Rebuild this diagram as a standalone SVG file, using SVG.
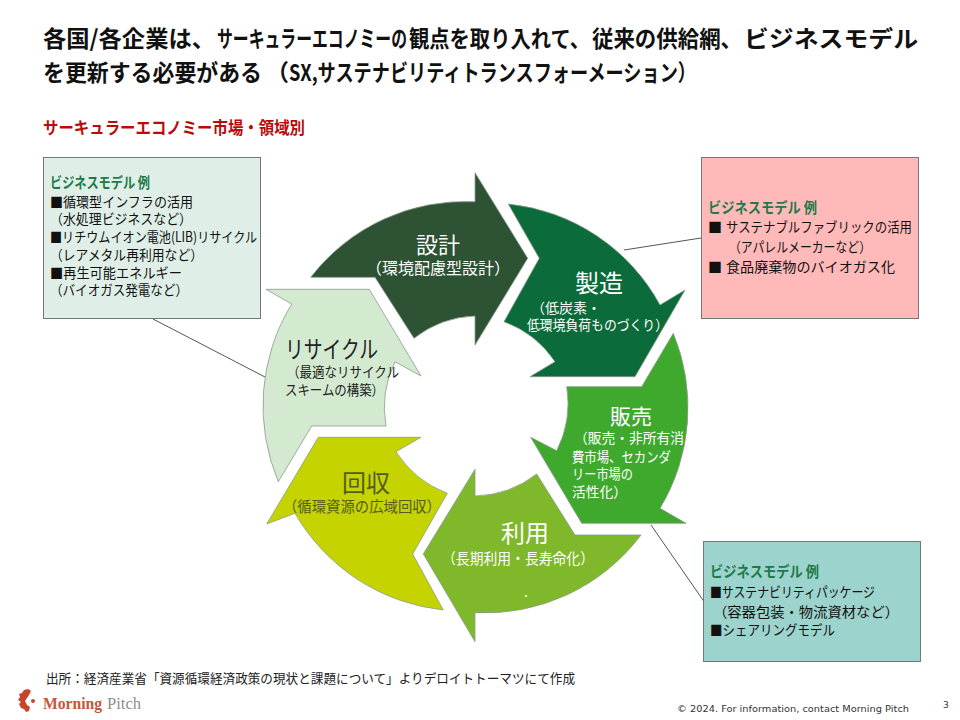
<svg xmlns="http://www.w3.org/2000/svg" width="960" height="720" viewBox="0 0 960 720">
<style>
text{font-family:"Noto Sans CJK JP","Noto Sans",sans-serif;}
.t{font-size:23px;font-weight:700;fill:#111}
.h{font-size:15px;font-weight:700;fill:#1e7a4a}
.b{font-size:14px;fill:#111}
.box{stroke:#6f7b7b;stroke-width:1}
.a{stroke:#8a9a8a;stroke-width:.8}
.w{fill:#fff}
.mid{text-anchor:middle}
.ln{stroke:#555;stroke-width:1;fill:none}
</style>
<rect width="960" height="720" fill="#fff"/>
<text class="t" y="47"><tspan x="43" textLength="172" lengthAdjust="spacingAndGlyphs">各国/各企業は、</tspan><tspan x="217" textLength="190" lengthAdjust="spacingAndGlyphs">サーキュラーエコノミーの</tspan><tspan x="409" textLength="181" lengthAdjust="spacingAndGlyphs">観点を取り入れて、</tspan><tspan x="592" textLength="150" lengthAdjust="spacingAndGlyphs">従来の供給網、</tspan><tspan x="744" textLength="174" lengthAdjust="spacingAndGlyphs">ビジネスモデル</tspan></text>
<text class="t" y="81"><tspan x="43" textLength="219" lengthAdjust="spacingAndGlyphs">を更新する必要がある</tspan><tspan x="266">（</tspan><tspan x="289" textLength="407" lengthAdjust="spacingAndGlyphs">SX,サステナビリティトランスフォーメーション）</tspan></text>
<text x="43" y="134" style="font-size:17px;font-weight:700;fill:#b80c0c" textLength="262" lengthAdjust="spacingAndGlyphs">サーキュラーエコノミー市場・領域別</text>
<g id="connectors">
<path class="ln" d="M153 319L265 377"/>
<path class="ln" d="M624 250L701 238"/>
<path class="ln" d="M651 525L705 603"/>
</g>
<g id="node-design">
<path class="a" fill="#2d5234" d="M310.700 277.300A195 195 0 0 1 475 201.700V172.700L527.700 258.300L475 345V316A105 105 0 0 0 414 338.300L375 277.300Z"/>
<text class="w mid" x="438" y="253" font-size="22">設計</text>
<text class="w mid" x="438" y="274" font-size="16">（環境配慮型設計）</text>
</g>
<g id="node-manufacture">
<path class="a" fill="#0b6b3a" d="M508.300 204A195 195 0 0 1 660 305L685 290L635 376.700H530L555 361.700A105 105 0 0 0 504 321.700L539.300 258.300Z"/>
<text class="w mid" x="599" y="292" font-size="24">製造</text>
<text class="w" x="531" y="313" font-size="14">（低炭素・</text>
<text class="w" x="527" y="330" font-size="14" textLength="141" lengthAdjust="spacingAndGlyphs">低環境負荷ものづくり）</text>
</g>
<g id="node-sales">
<path class="a" fill="#3fa92d" d="M673.300 333.300A195 195 0 0 1 660 508.300L686 523.300H581.700L530.700 437.300L556.700 450.700A105 105 0 0 0 566.700 386.700H641.700Z"/>
<text class="w mid" x="631" y="424" font-size="21">販売</text>
<text class="w" x="574" y="443" font-size="14" textLength="110" lengthAdjust="spacingAndGlyphs">（販売・非所有消</text>
<text class="w" x="572" y="462" font-size="14" textLength="99" lengthAdjust="spacingAndGlyphs">費市場、セカンダ</text>
<text class="w" x="572" y="479" font-size="14" textLength="61" lengthAdjust="spacingAndGlyphs">リー市場の</text>
<text class="w" x="572" y="497" font-size="14" textLength="55" lengthAdjust="spacingAndGlyphs">活性化）</text>
</g>
<g id="node-use">
<path class="a" fill="#7fb82a" d="M641 535A195 195 0 0 1 475 612.700V641.700L423.300 554L475 469.300V496A105 105 0 0 0 536.700 474L575 535Z"/>
<text class="w mid" x="525" y="542" font-size="24">利用</text>
<text class="w mid" x="518" y="564" font-size="15" textLength="152" lengthAdjust="spacingAndGlyphs">（長期利用・長寿命化）</text>
<text class="w mid" x="526" y="597" font-size="14">.</text>
</g>
<g id="node-collect">
<path class="a" fill="#c5d400" d="M443.300 610A195 195 0 0 1 295 513.300L266.700 524L318.300 437.300H421L396 451.700A105 105 0 0 0 447.300 493.300L412.700 554Z"/>
<text class="mid" x="366" y="492" font-size="24" fill="#555b1e">回収</text>
<text x="283" y="512" font-size="15" fill="#555b1e" textLength="158" lengthAdjust="spacingAndGlyphs">（循環資源の広域回収）</text>
</g>
<g id="node-recycle">
<path class="a" fill="#d3ead0" d="M369.300 289.300L421 376L395 361.700A105 105 0 0 0 386 426H311.700L278.300 481.700A195 195 0 0 1 291.700 304L266 289.300Z"/>
<text x="285" y="358" font-size="24" fill="#222" textLength="93" lengthAdjust="spacingAndGlyphs">リサイクル</text>
<text x="287" y="377" font-size="14" fill="#222" textLength="112" lengthAdjust="spacingAndGlyphs">（最適なリサイクル</text>
<text x="285" y="395" font-size="14" fill="#222" textLength="99" lengthAdjust="spacingAndGlyphs">スキームの構築）</text>
</g>
<g id="box-left">
<rect class="box" x="43.500" y="157.500" width="217" height="161" fill="#dfefe8"/>
<text class="h" x="50" y="188" textLength="100" lengthAdjust="spacingAndGlyphs">ビジネスモデル 例</text>
<text class="b" x="50" y="207" textLength="143" lengthAdjust="spacingAndGlyphs">■循環型インフラの活用</text>
<text class="b" x="50" y="224" textLength="142" lengthAdjust="spacingAndGlyphs">（水処理ビジネスなど）</text>
<text class="b" x="50" y="242" textLength="207" lengthAdjust="spacingAndGlyphs">■リチウムイオン電池(LIB)リサイクル</text>
<text class="b" x="50" y="260" textLength="153" lengthAdjust="spacingAndGlyphs">（レアメタル再利用など）</text>
<text class="b" x="50" y="278" textLength="132" lengthAdjust="spacingAndGlyphs">■再生可能エネルギー</text>
<text class="b" x="50" y="295" textLength="138" lengthAdjust="spacingAndGlyphs">（バイオガス発電など）</text>
</g>
<g id="box-right">
<rect class="box" x="701.500" y="157.500" width="217" height="161" fill="#ffb9b9"/>
<text class="h" x="708" y="213" textLength="109" lengthAdjust="spacingAndGlyphs">ビジネスモデル 例</text>
<text class="b" x="708" y="232">■</text><text class="b" x="726" y="232" textLength="186" lengthAdjust="spacingAndGlyphs">サステナブルファブリックの活用</text>
<text class="b" x="729" y="252" textLength="142" lengthAdjust="spacingAndGlyphs">（アパレルメーカーなど）</text>
<text class="b" x="708" y="272">■</text><text class="b" x="726" y="272" textLength="169" lengthAdjust="spacingAndGlyphs">食品廃棄物のバイオガス化</text>
</g>
<g id="box-bottom">
<rect class="box" x="703.500" y="541.500" width="217" height="120" fill="#9cd3cc"/>
<text class="h" x="710" y="577" textLength="109" lengthAdjust="spacingAndGlyphs">ビジネスモデル 例</text>
<text class="b" x="710" y="597" textLength="165" lengthAdjust="spacingAndGlyphs">■サステナビリティパッケージ</text>
<text class="b" x="713" y="617" textLength="186" lengthAdjust="spacingAndGlyphs">（容器包装・物流資材など）</text>
<text class="b" x="710" y="635" textLength="125" lengthAdjust="spacingAndGlyphs">■シェアリングモデル</text>
</g>
<text x="46" y="683" style="font-size:13px;fill:#222" textLength="529" lengthAdjust="spacingAndGlyphs">出所：経済産業省「資源循環経済政策の現状と課題について」よりデロイトトーマツにて作成</text>
<g id="logo">
<path fill="#c8452c" d="M28 689L31 691L29 695L27 698L25 701L27 705L30 707L29 711L26 712L24 709L21 708L19 704L21 702L18 700L20 697L19 694L22 693L24 690Z"/>
<circle cx="33" cy="701" r="2" fill="#c8452c"/>
<text x="43" y="709" style="font-family:'Liberation Serif',serif;font-size:17px;fill:#c8553d;font-weight:700" textLength="59" lengthAdjust="spacingAndGlyphs">Morning</text>
<text x="107" y="709" style="font-family:'Liberation Serif',serif;font-size:17px;fill:#8a8f8f" textLength="34" lengthAdjust="spacingAndGlyphs">Pitch</text>
</g>
<text x="677" y="712" style="font-family:'DejaVu Sans',sans-serif;font-size:9px;fill:#333" textLength="232" lengthAdjust="spacingAndGlyphs">© 2024. For information, contact Morning Pitch</text>
<text x="943" y="708" style="font-family:'DejaVu Sans',sans-serif;font-size:9px;fill:#333">3</text>
</svg>
